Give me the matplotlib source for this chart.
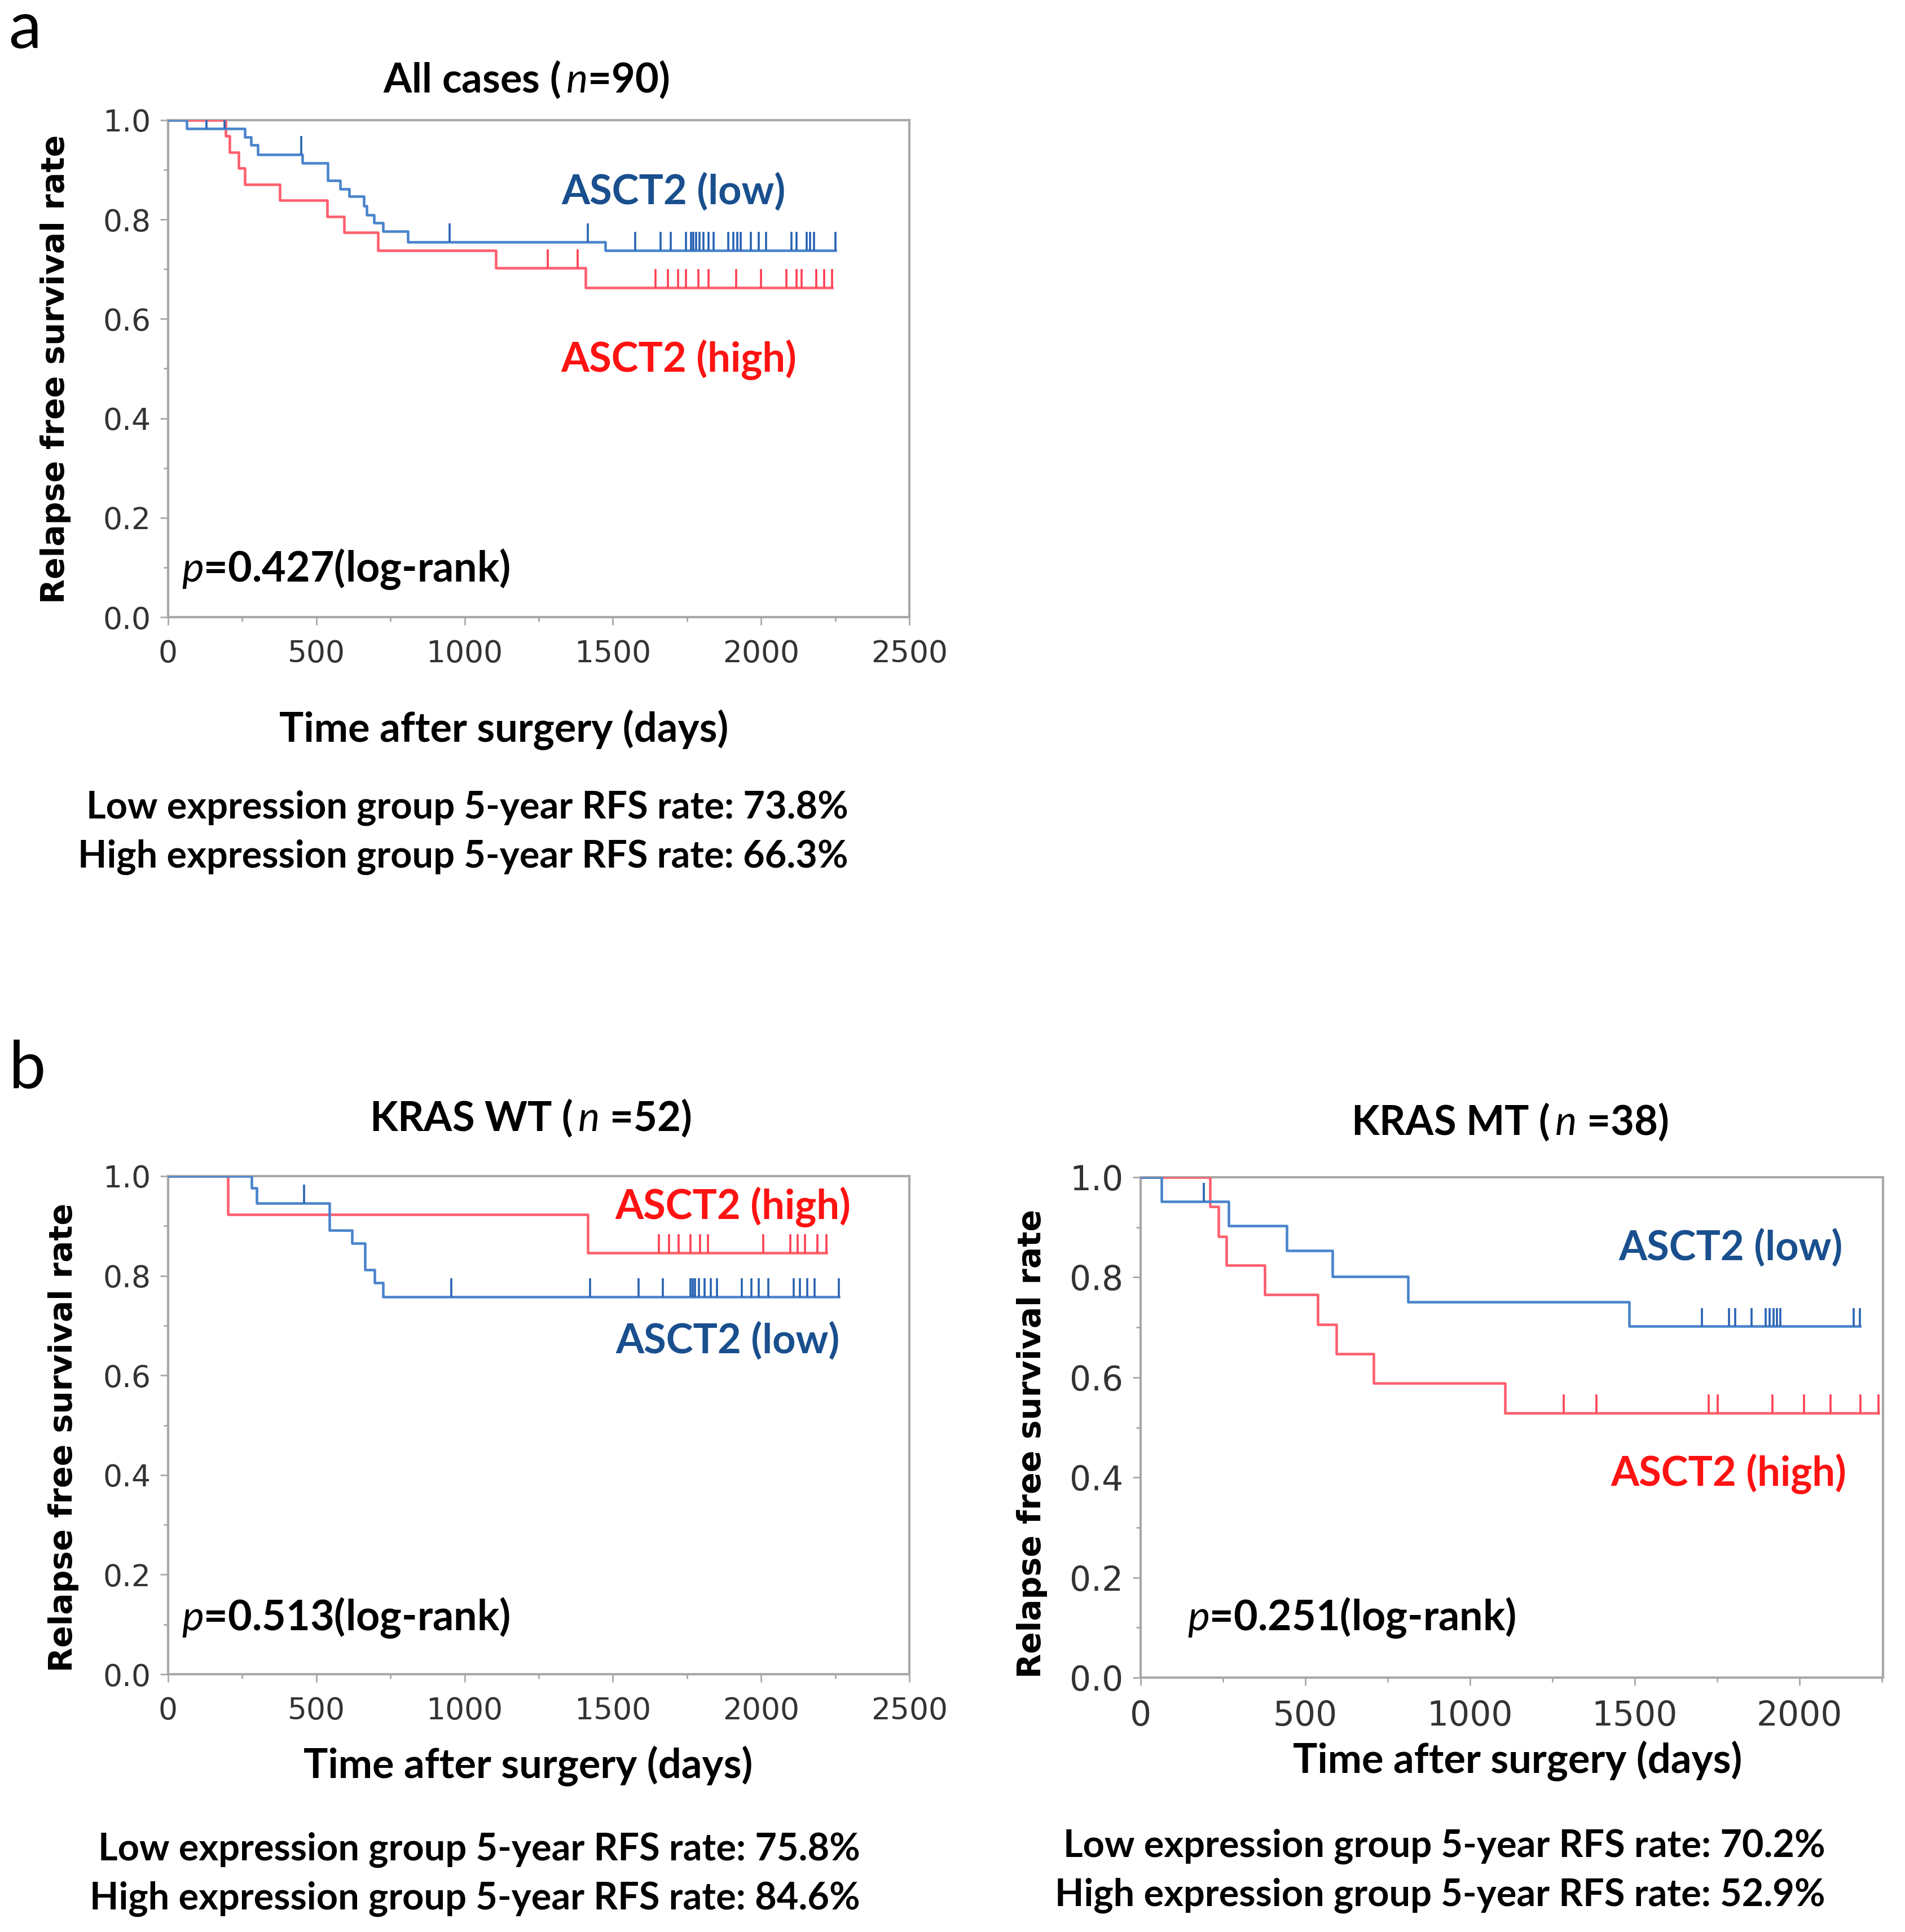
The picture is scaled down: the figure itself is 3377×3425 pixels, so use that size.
import numpy as np
import matplotlib
matplotlib.use('Agg')
import matplotlib.pyplot as plt
from matplotlib.ticker import MultipleLocator, FormatStrFormatter

# --- data (days, survival) ---
a_low_t = [63, 259, 280, 302, 452, 539, 581, 610, 661, 670, 695, 724, 808, 1475]
a_low_s = [0.983, 0.966, 0.950, 0.931, 0.914, 0.879, 0.862, 0.847, 0.828, 0.809, 0.793, 0.776, 0.755, 0.738]
a_low_c = [130, 190, 449, 949, 1415, 1576, 1661, 1695, 1746, 1763, 1771, 1780, 1793, 1805, 1822,
           1839, 1890, 1907, 1919, 1932, 1966, 1992, 2017, 2102, 2119, 2153, 2166, 2178, 2250]
a_high_t = [195, 208, 237, 258, 376, 536, 593, 707, 1105, 1407]
a_high_s = [0.968, 0.935, 0.903, 0.871, 0.839, 0.806, 0.774, 0.738, 0.703, 0.663]
a_high_c = [1280, 1381, 1644, 1686, 1720, 1746, 1788, 1822, 1915, 2000, 2085, 2119, 2136, 2186, 2212, 2240]

wt_low_t = [282, 298, 544, 620, 664, 697, 725]
wt_low_s = [0.976, 0.946, 0.891, 0.865, 0.812, 0.786, 0.758]
wt_low_c = [459, 956, 1423, 1587, 1669, 1762, 1770, 1777, 1790, 1810, 1830, 1852, 1934, 1967,
            1992, 2025, 2110, 2131, 2156, 2180, 2262]
wt_high_t = [202, 1415]
wt_high_s = [0.923, 0.846]
wt_high_c = [1656, 1689, 1721, 1762, 1795, 1820, 2008, 2098, 2123, 2148, 2189, 2221]

mt_low_t = [63, 268, 444, 583, 811, 1484]
mt_low_s = [0.952, 0.903, 0.853, 0.802, 0.751, 0.702]
mt_low_c = [191, 1704, 1786, 1806, 1855, 1898, 1910, 1921, 1932, 1942, 2165, 2184]
mt_high_t = [210, 237, 260, 376, 538, 595, 707, 1107]
mt_high_s = [0.941, 0.882, 0.824, 0.765, 0.706, 0.647, 0.588, 0.529]
mt_high_c = [1285, 1384, 1724, 1752, 1918, 2014, 2095, 2185, 2240]

titles = [r'All cases ($\,\mathit{n}$=90)', r'KRAS WT ($\,\mathit{n}$ =52)', r'KRAS MT ($\,\mathit{n}$ =38)']
pvals = ['0.427', '0.513', '0.251']
rfs_low = ['73.8%', '75.8%', '70.2%']
rfs_high = ['66.3%', '84.6%', '52.9%']

BLUE_LINE, BLUE_TICK, BLUE_TXT = '#4a84cc', '#2862b2', '#1a4f8e'
RED_LINE, RED_TICK, RED_TXT = '#ff5f6e', '#ff3f52', '#ff1212'
LAB = 'Lato'

plt.rcParams['mathtext.fontset'] = 'custom'
plt.rcParams['mathtext.it'] = 'Lato:italic'
plt.rcParams['mathtext.rm'] = 'Lato:bold'

W, H = 3377, 3425
fig = plt.figure(figsize=(W / 100, H / 100), dpi=100)


def box(l, t, r, b):
    return [l / W, 1 - b / H, (r - l) / W, (b - t) / H]


def km(ax, t, s, cens, lc, tc):
    t = np.asarray(t); s = np.asarray(s); cens = np.asarray(cens)
    end = max(cens.max(), t.max())
    ax.step(np.r_[0, t, end], np.r_[1.0, s, s[-1]], where='post', color=lc, lw=3.3, zorder=3)
    lev = np.r_[1.0, s]
    cy = lev[np.searchsorted(t, cens, side='right')]
    ax.vlines(cens, cy, cy + 0.037, color=tc, lw=2.6, zorder=3)


def style(ax, xmax, fs, xpad):
    ax.set_xlim(0, xmax)
    ax.set_ylim(0, 1.0)
    ax.xaxis.set_major_locator(MultipleLocator(500))
    ax.xaxis.set_minor_locator(MultipleLocator(250))
    ax.yaxis.set_major_locator(MultipleLocator(0.2))
    ax.yaxis.set_minor_locator(MultipleLocator(0.1))
    ax.yaxis.set_major_formatter(FormatStrFormatter('%.1f'))
    for sp in ax.spines.values():
        sp.set_color('#a8a8a8')
        sp.set_linewidth(3)
    ax.tick_params(which='major', length=10, width=2, color='#a8a8a8',
                   labelsize=fs, labelcolor='#333333', pad=12)
    ax.tick_params(axis='x', which='major', pad=xpad)
    ax.tick_params(which='minor', length=6, width=2, color='#a8a8a8')
    for lb in ax.get_xticklabels() + ax.get_yticklabels():
        lb.set_family('DejaVu Sans')


panels = [
    dict(rect=box(298, 213, 1612, 1094), xmax=2500, fs=38.5, xpad=18,
         low=(a_low_t, a_low_s, a_low_c), high=(a_high_t, a_high_s, a_high_c),
         low_lab=(1705, 0.856), high_lab=(1722, 0.518), p_pos=(46, 0.096),
         xl=(0.453, -0.227), yl=(-0.152, 0.499), tt=(0.483, 1.081),
         right=1504, lines=(1432, 1519)),
    dict(rect=box(298, 2085, 1612, 2968), xmax=2500, fs=38.5, xpad=18,
         low=(wt_low_t, wt_low_s, wt_low_c), high=(wt_high_t, wt_high_s, wt_high_c),
         low_lab=(1887, 0.669), high_lab=(1905, 0.938), p_pos=(46, 0.113),
         xl=(0.486, -0.185), yl=(-0.141, 0.475), tt=(0.489, 1.116),
         right=1525, lines=(3279, 3366)),
    dict(rect=box(2022, 2087, 3338, 2974), xmax=2254, fs=43, xpad=18,
         low=(mt_low_t, mt_low_s, mt_low_c), high=(mt_high_t, mt_high_s, mt_high_c),
         low_lab=(1792, 0.859), high_lab=(1785, 0.407), p_pos=(142, 0.12),
         xl=(0.508, -0.167), yl=(-0.146, 0.467), tt=(0.497, 1.110),
         right=3236, lines=(3273, 3360)),
]

for i, pn in enumerate(panels):
    ax = fig.add_axes(pn['rect'])
    km(ax, *pn['high'], RED_LINE, RED_TICK)
    km(ax, *pn['low'], BLUE_LINE, BLUE_TICK)
    style(ax, pn['xmax'], pn['fs'], pn['xpad'])

    ax.text(*pn['low_lab'], 'ASCT2 (low)', color=BLUE_TXT, family=LAB, weight='bold',
            fontsize=52, ha='center', va='center')
    ax.text(*pn['high_lab'], 'ASCT2 (high)', color=RED_TXT, family=LAB, weight='bold',
            fontsize=52, ha='center', va='center')
    ax.text(*pn['p_pos'], r'$\mathit{p}$=' + pvals[i] + '(log-rank)', color='black',
            family=LAB, weight='bold', fontsize=53, ha='left', va='center')

    ax.set_xlabel('Time after surgery (days)', family=LAB, weight='bold', fontsize=52)
    ax.xaxis.set_label_coords(*pn['xl'])
    ax.xaxis.label.set_va('center')
    ax.set_ylabel('Relapse free survival rate', family='DejaVu Sans', weight='bold', fontsize=41)
    ax.yaxis.set_label_coords(*pn['yl'])
    ax.yaxis.label.set_va('center')
    ax.text(*pn['tt'], titles[i], transform=ax.transAxes, family=LAB, weight='bold',
            fontsize=52, ha='center', va='center')

    fig.text(pn['right'] / W, 1 - pn['lines'][0] / H,
             'Low expression group 5-year RFS rate: ' + rfs_low[i],
             family=LAB, weight='bold', fontsize=48, ha='right', va='center')
    fig.text(pn['right'] / W, 1 - pn['lines'][1] / H,
             'High expression group 5-year RFS rate: ' + rfs_high[i],
             family=LAB, weight='bold', fontsize=48, ha='right', va='center')

fig.text(44 / W, 1 - 52 / H, 'a', family=LAB, fontsize=84, ha='center', va='center')
fig.text(48 / W, 1 - 1896 / H, 'b', family=LAB, fontsize=84, ha='center', va='center')

fig.savefig('out.png', dpi=100, facecolor='white')
